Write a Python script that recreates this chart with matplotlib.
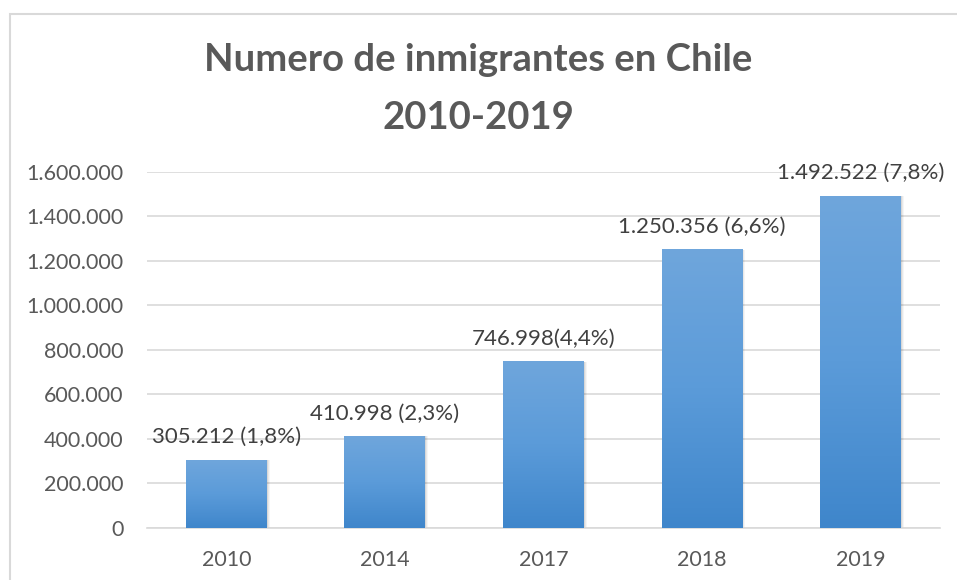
import matplotlib
matplotlib.use("Agg")
import matplotlib.pyplot as plt
import numpy as np
from matplotlib.patches import Rectangle
from matplotlib.colors import LinearSegmentedColormap
from matplotlib.ticker import FuncFormatter

# datos: inmigrantes en Chile por año
years = ["2010", "2014", "2017", "2018", "2019"]
inmigrantes = [305212, 410998, 746998, 1250356, 1492522]
porcentaje = ["1,8%", "2,3%", "4,4%", "6,6%", "7,8%"]
sep = [" ", " ", "", " ", " "]
yticks = [0, 200000, 400000, 600000, 800000, 1000000, 1200000, 1400000, 1600000]

plt.rcParams['font.family'] = ['Lato', 'DejaVu Sans']

fig = plt.figure(figsize=(9.57, 5.8), dpi=100)

# marco del gráfico
fig.add_artist(Rectangle((10 / 957, -0.1), 1.2, (580 - 14) / 580 + 0.1,
                         transform=fig.transFigure, fill=False,
                         edgecolor='#d9d9d9', linewidth=1.5))

fig.text(0.5, 1 - 60 / 580, "Numero de inmigrantes en Chile", ha='center', va='center',
         fontsize=27.5, fontweight='bold', color='#595959')
fig.text(0.5, 1 - 118 / 580, "2010-2019", ha='center', va='center',
         fontsize=27.5, fontweight='bold', color='#595959')

ax = fig.add_axes([147 / 957, 1 - 527.7 / 580, (940 - 147) / 957, (527.7 - 171.7) / 580])
ax.set_ylim(0, 1600000)
ax.set_xlim(-0.5, len(years) - 0.5)

for s in ['top', 'right', 'left']:
    ax.spines[s].set_visible(False)
ax.spines['bottom'].set_color('#d9d9d9')
ax.spines['bottom'].set_linewidth(1.2)
ax.set_yticks(yticks)
ax.yaxis.set_major_formatter(FuncFormatter(lambda v, p: f"{int(v):,}".replace(",", ".")))
ax.grid(axis='y', color='#d9d9d9', linewidth=1.2)
ax.set_axisbelow(True)
ax.tick_params(axis='both', length=0, labelsize=15.5, colors='#595959')
ax.tick_params(axis='y', pad=17)
ax.tick_params(axis='x', pad=16)
ax.set_xticks(range(len(years)))
ax.set_xticklabels(years)

cmap = LinearSegmentedColormap.from_list('barra', ['#3f86cb', '#5b9bd9', '#6fa6dc'])
grad = np.linspace(0, 1, 256).reshape(-1, 1)
width = 0.51

bars = ax.bar(range(len(years)), inmigrantes, width=width, color='none', zorder=3)
for i, (b, v) in enumerate(zip(bars, inmigrantes)):
    x0 = b.get_x()
    # sombra suave
    for k, a in enumerate([0.07, 0.05, 0.04]):
        off = (k + 1) * 0.006
        ax.add_patch(Rectangle((x0 + off, -off * 9000), width, v, facecolor='black',
                               alpha=a, edgecolor='none', zorder=2))
    im = ax.imshow(grad, extent=[x0, x0 + width, 0, v], origin='lower', cmap=cmap,
                   aspect='auto', zorder=3)
    im.set_clip_path(b)
    ax.annotate(f"{v:,}".replace(",", ".") + sep[i] + f"({porcentaje[i]})",
                xy=(i, v), xytext=(0, 12), textcoords='offset points',
                ha='center', va='baseline', fontsize=16, color='#404040', zorder=4)

ax.set_xlim(-0.5, len(years) - 0.5)
ax.set_ylim(0, 1600000)

fig.savefig("out.png", dpi=100)
